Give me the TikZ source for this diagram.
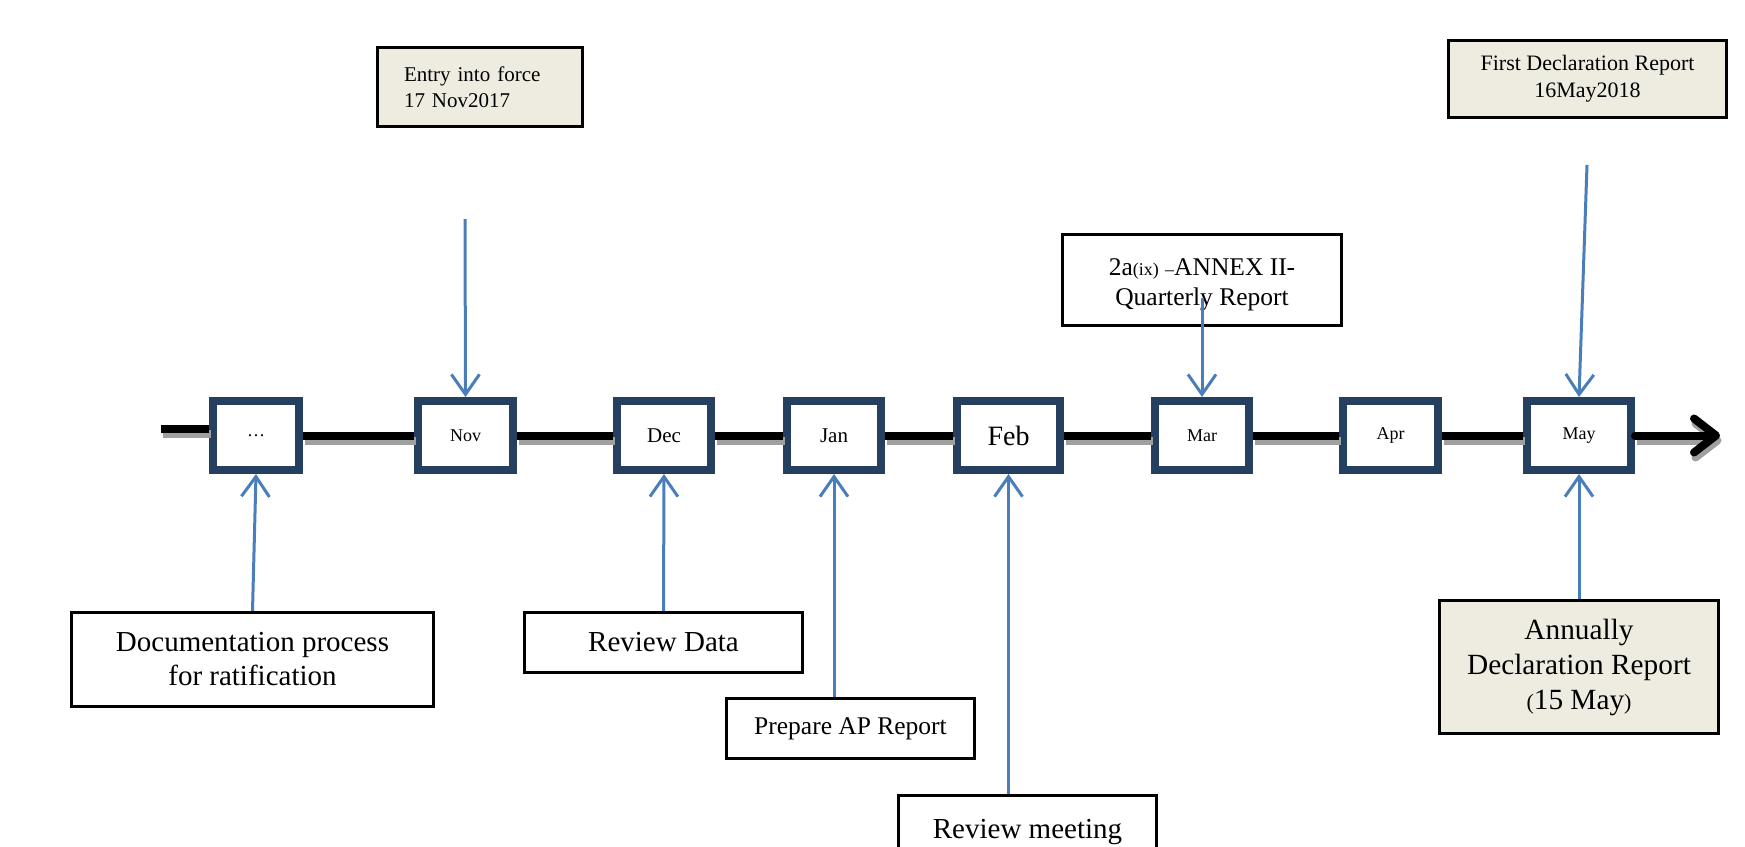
\documentclass[tikz,border=0pt]{standalone}
\usepackage{fontspec}
\setmainfont{Liberation Serif}
\usetikzlibrary{arrows.meta}
\definecolor{navy}{RGB}{36,63,96}
\definecolor{arrowblue}{RGB}{74,126,187}
\definecolor{beige}{RGB}{238,236,225}
\definecolor{shadowgray}{RGB}{160,160,160}
\tikzset{
  month/.style={draw=navy, line width=8pt, fill=white, minimum height=69pt, inner sep=0pt, font=\fontsize{18}{20}\selectfont},
  lbl/.style={draw=black, line width=3pt, fill=white, align=center, inner sep=0pt},
  barrow/.style={draw=arrowblue, line width=3pt, -{Straight Barb[length=20pt,width=28pt]}},
  tl/.style={line width=8pt, preaction={draw=shadowgray, line width=8pt, transform canvas={shift={(1.5pt,-5pt)}}}}
}
\begin{document}
\begin{tikzpicture}[x=1pt,y=-1pt]
\useasboundingbox (0,0) rectangle (1745,846);
\clip (0,0) rectangle (1745,846);

% month boxes
\node[month, minimum width=86pt] (dots) at (256,435.5) {\dots};
\node[month, minimum width=95pt] (nov) at (465.5,435.5) {Nov};
\node[month, minimum width=94pt, font=\fontsize{21}{24}\selectfont] (dec) at (664,435.5) {Dec};
\node[month, minimum width=94pt, font=\fontsize{21}{24}\selectfont] (jan) at (834,435.5) {Jan};
\node[month, minimum width=103pt, font=\fontsize{28}{30}\selectfont] (feb) at (1008.5,435.5) {Feb};
\node[month, minimum width=94pt] (mar) at (1202,435.5) {Mar};
\node[month, minimum width=95pt] (apr) at (1390.5,435.5) {Apr};
\node[month, minimum width=104pt] (may) at (1579,435.5) {May};

% timeline
\coordinate (tlstart) at (161,429);
\coordinate (tltip) at (1720,437);
\draw[tl] (tlstart) -- (tlstart -| dots.west);
\draw[tl] (dots.east) -- (nov.west);
\draw[tl] (nov.east) -- (dec.west);
\draw[tl] (dec.east) -- (jan.west);
\draw[tl] (jan.east) -- (feb.west);
\draw[tl] (feb.east) -- (mar.west);
\draw[tl] (mar.east) -- (apr.west);
\draw[tl] (apr.east) -- (may.west);
\draw[tl, line cap=round, -{Straight Barb[length=22pt,width=34pt,line cap=round,line join=round]}] (may.east) -- (may.east -| tltip);

% label boxes
\node[lbl, fill=beige, align=left, text width=152pt, inner xsep=26.5pt, minimum height=79pt, font=\fontsize{21}{26}\selectfont] (entry) at (480,87) {Entry into force\\17 Nov2017};
\node[lbl, fill=beige, minimum width=278pt, minimum height=77pt, font=\fontsize{22}{27}\selectfont] (first) at (1587.5,79) {First Declaration Report\\16May2018};
\node[lbl, minimum width=279pt, minimum height=91pt, font=\fontsize{25.5}{30}\selectfont] (annex) at (1202,280) {\rule{0pt}{27pt}2a{\fontsize{18}{30}\selectfont(ix)} {\fontsize{18}{30}\selectfont–}ANNEX II-\\Quarterly Report};
\node[lbl, minimum width=362pt, minimum height=94pt, font=\fontsize{29}{34}\selectfont] (doc) at (252.5,659.5) {Documentation process\\for ratification};
\node[lbl, minimum width=278pt, minimum height=60pt, font=\fontsize{29}{34}\selectfont] (rd) at (663.5,642.5) {Review Data};
\node[lbl, minimum width=248pt, minimum height=60pt, font=\fontsize{25.5}{30}\selectfont] (ap) at (850.5,728.5) {Prepare AP Report};
\node[lbl, minimum width=258pt, minimum height=74pt, font=\fontsize{29}{34}\selectfont] (rm) at (1027.5,832) {Review meeting};
\node[lbl, fill=beige, minimum width=279pt, minimum height=133pt, font=\fontsize{29.3}{35}\selectfont] (ann) at (1579,667) {Annually\\Declaration Report\\{\fontsize{22}{35}\selectfont(}15 May{\fontsize{22}{35}\selectfont)}};

% blue arrows
\coordinate (novtop) at (465,219);
\coordinate (maytop) at (1587,165);
\coordinate (marstart) at (1202,298);
\draw[barrow] (novtop) -- (nov.north);
\draw[barrow] (marstart) -- (mar.north);
\draw[barrow] (maytop) -- (may.north);
\draw[barrow] (doc.north) -- (dots.south);
\draw[barrow] (rd.north) -- (dec.south);
\draw[barrow] (ap.north -| jan.south) -- (jan.south);
\draw[barrow] (rm.north -| feb.south) -- (feb.south);
\draw[barrow] (ann.north) -- (may.south);
\end{tikzpicture}
\end{document}
